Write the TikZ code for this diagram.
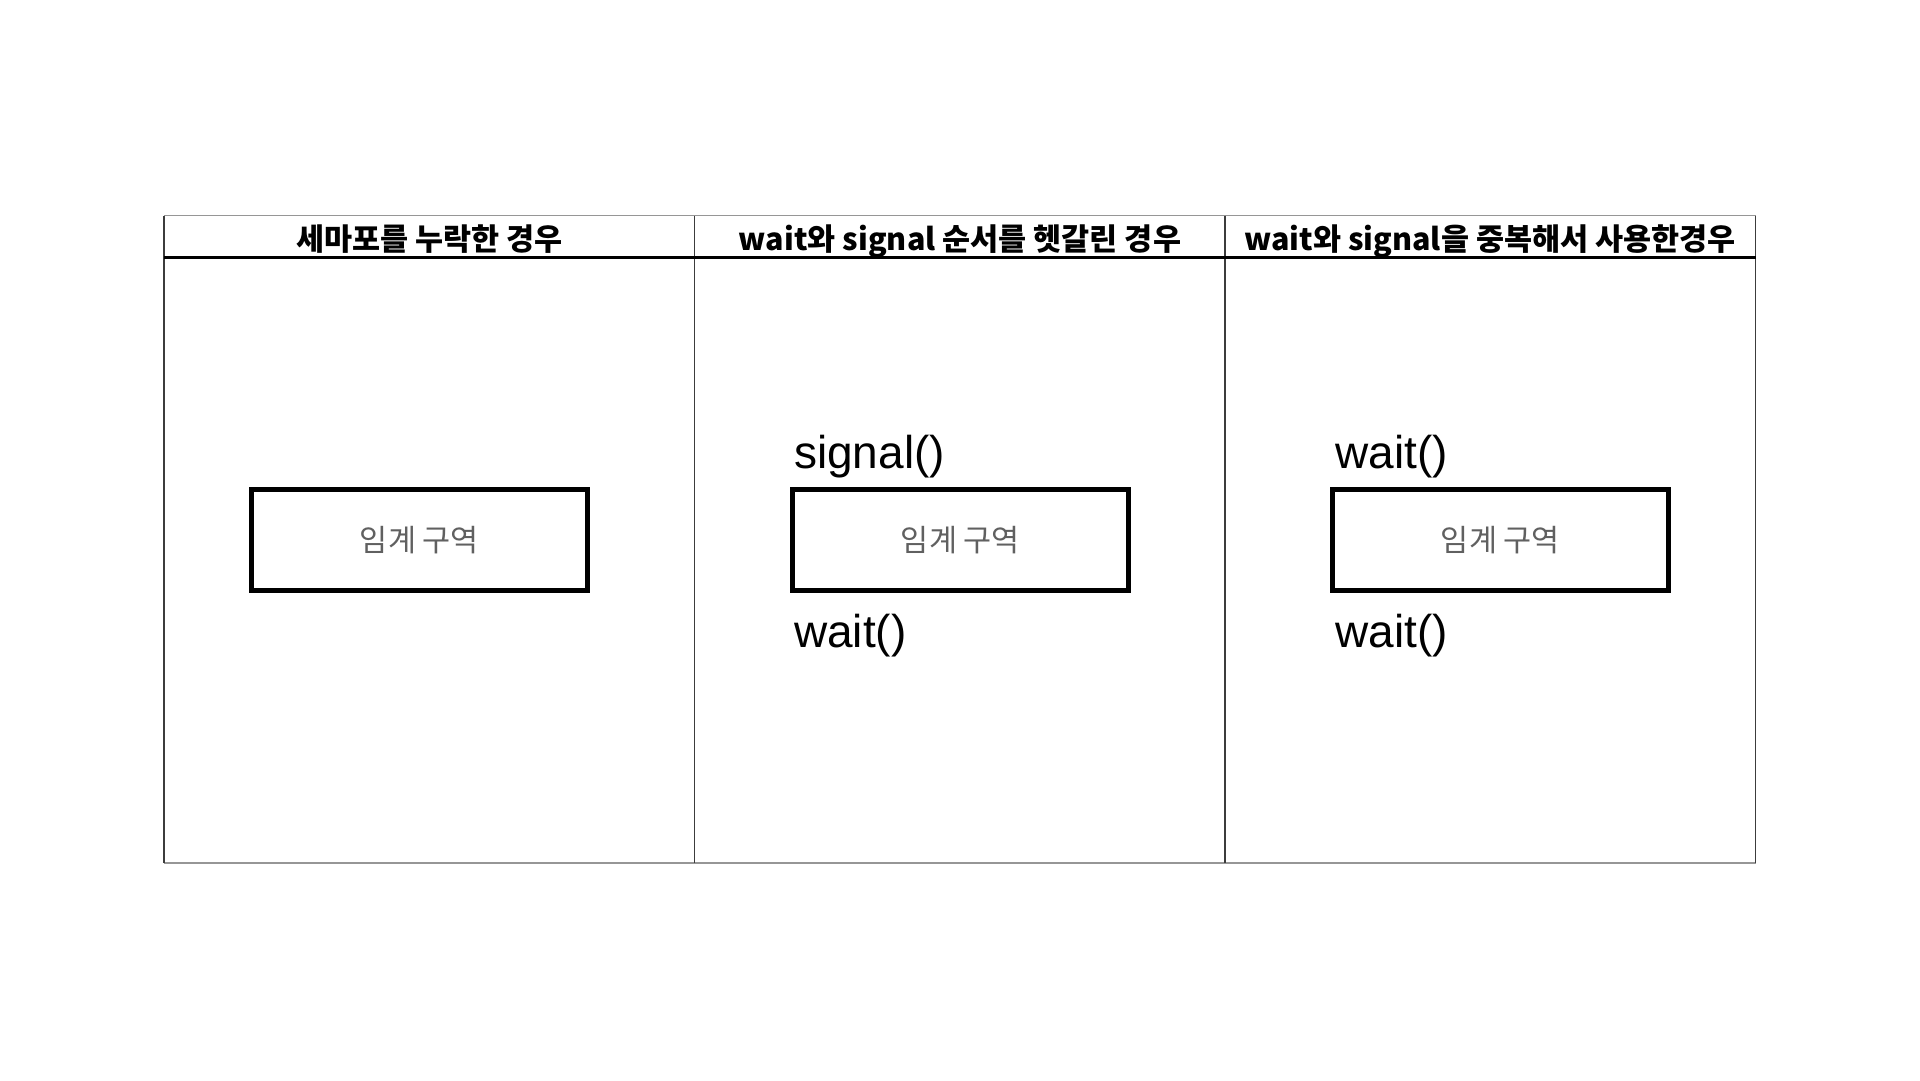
\documentclass[tikz,border=0pt]{standalone}
\usepackage{fontspec}
\setmainfont{Liberation Sans}
\newfontfamily\kr{Noto Sans CJK KR}
\definecolor{rimgray}{RGB}{150,150,150}
\definecolor{divgray}{RGB}{60,60,60}
\definecolor{labelgray}{RGB}{96,96,96}
\tikzset{
  critbox/.style={draw=black, line width=5pt, minimum width=336pt, minimum height=101pt, inner sep=0pt,
    font=\kr\fontsize{30.5}{36}\selectfont, text=labelgray},
  headtext/.style={anchor=base, inner sep=0pt, font=\kr\bfseries\fontsize{30.5}{36}\selectfont},
  calltext/.style={anchor=base west, inner sep=0pt, font=\fontsize{46}{55}\selectfont},
}
\begin{document}
\begin{tikzpicture}[x=1pt,y=-1pt]
\useasboundingbox (0,0) rectangle (1920,1080);
\fill[white] (0,0) rectangle (1920,1080);
% table frame
\coordinate (tl) at (164,215.5);
\coordinate (tr) at (1755.5,215.5);
\coordinate (bl) at (164,863);
\coordinate (br) at (1755.5,863);
\draw[rimgray, line width=1.4pt] (tl) -- (tr);
\draw[rimgray, line width=1.4pt] (bl) -- (br);
\draw[divgray, line width=1.2pt] (tl) -- (bl);
\draw[divgray, line width=1.2pt] (tr) -- (br);
\coordinate (d1t) at (694.5,215.5);
\coordinate (d1b) at (694.5,863);
\coordinate (d2t) at (1225,215.5);
\coordinate (d2b) at (1225,863);
\draw[divgray, line width=1.2pt] (d1t) -- (d1b);
\draw[divgray, line width=1.2pt] (d2t) -- (d2b);
\coordinate (hl) at (164,257.5);
\coordinate (hr) at (1755.5,257.5);
\draw[black, line width=2.2pt] (hl) -- (hr);
% headers
\node[headtext] (h1) at (429.5,250) {세마포를 누락한 경우};
\node[headtext] (h2) at (960,250) {wait와 signal 순서를 헷갈린 경우};
\node[headtext] (h3) at (1490,250) {wait와 signal을 중복해서 사용한경우};
% critical sections
\node[critbox] (b1) at (419.5,540) {임계 구역};
\node[critbox] (b2) at (960.5,540) {임계 구역};
\node[critbox] (b3) at (1500.5,540) {임계 구역};
% calls
\node[calltext] (s2) at (794,468) {signal()};
\node[calltext] (w2) at (794,647) {wait()};
\node[calltext] (w3a) at (1335,468) {wait()};
\node[calltext] (w3b) at (1335,647) {wait()};
\end{tikzpicture}
\end{document}
